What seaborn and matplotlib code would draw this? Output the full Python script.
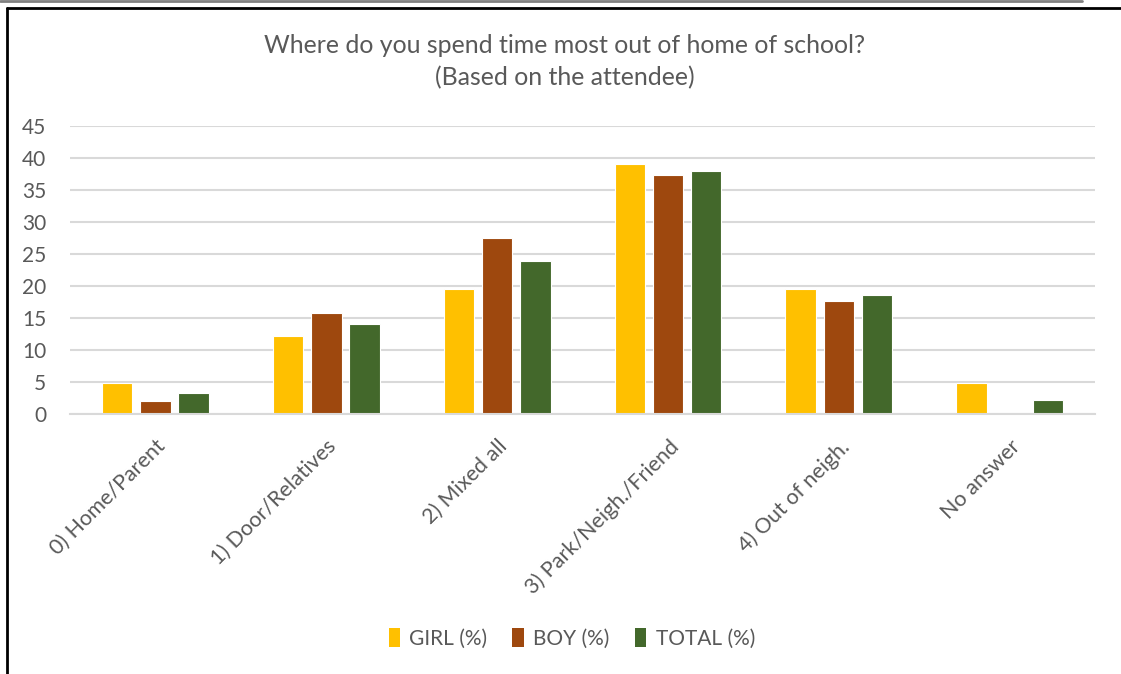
import matplotlib
matplotlib.use("Agg")
import matplotlib.pyplot as plt
import seaborn as sns
import pandas as pd
from matplotlib.lines import Line2D
from matplotlib.patches import Patch

categories = ["0) Home/Parent", "1) Door/Relatives", "2) Mixed all",
              "3) Park/Neigh./Friend", "4) Out of neigh.", "No answer"]
girl = [4.9, 12.2, 19.5, 39.0, 19.5, 4.9]
boy = [2.0, 15.7, 27.5, 37.3, 17.6, 0.0]
total = [3.3, 14.1, 23.9, 38.0, 18.5, 2.2]
series_names = ["GIRL (%)", "BOY (%)", "TOTAL (%)"]
colors = ["#FFC000", "#9E480E", "#43682B"]
yticks = [0, 5, 10, 15, 20, 25, 30, 35, 40, 45]

df = pd.DataFrame({
    "category": categories * 3,
    "series": [s for s in series_names for _ in categories],
    "value": girl + boy + total,
})

sns.set_theme(style="white")
plt.rcParams["font.family"] = ["Lato", "DejaVu Sans"]
text_color = "#595959"

fig = plt.figure(figsize=(11.21, 6.74), dpi=100)
ax = fig.add_axes([0.0624, 0.3858, 0.9146, 0.4277])

sns.barplot(data=df, x="category", y="value", hue="series", order=categories,
            hue_order=series_names, palette=colors, width=0.67, gap=0.2,
            saturation=1, ax=ax, legend=False, edgecolor="white", linewidth=0.8)

ax.set_ylim(0, 45)
ax.set_xlim(-0.5, len(categories) - 0.5)
ax.set_yticks(yticks)
ax.set_yticklabels([str(t) for t in yticks], fontsize=15, color=text_color)
ax.yaxis.grid(True, color="#D9D9D9", linewidth=1.5)
ax.set_axisbelow(True)
for s in ["top", "right", "left"]:
    ax.spines[s].set_visible(False)
ax.spines["bottom"].set_color("#D9D9D9")
ax.spines["bottom"].set_linewidth(1.5)
ax.tick_params(axis="y", length=0, pad=17)
ax.tick_params(axis="x", length=0, pad=16)
ax.set_xlabel("")
ax.set_ylabel("")
ax.set_xticks(range(len(categories)))
ax.set_xticklabels(categories, rotation=45, ha="right", va="top",
                   rotation_mode="anchor", fontsize=15.5, color=text_color)

fig.text(0.504, 0.909, "Where do you spend time most out of home of school?\n(Based on the attendee)",
         ha="center", va="center", fontsize=17.9, color=text_color, linespacing=1.45)

handles = [Patch(facecolor=c, edgecolor="none") for c in colors]
fig.legend(handles, series_names, loc="center", bbox_to_anchor=(0.51, 0.053),
           ncol=3, frameon=False, fontsize=15, handlelength=0.55, handleheight=1.0,
           handletextpad=0.45, columnspacing=1.2, labelcolor=text_color)

# outer frame decoration
fig.add_artist(Line2D([0, 0.965], [0.998, 0.998], color="#808080", linewidth=2,
                      transform=fig.transFigure))
fig.add_artist(Line2D([0.0058, 1.0], [0.988, 0.988], color="black", linewidth=2,
                      transform=fig.transFigure))
fig.add_artist(Line2D([0.0058, 0.0058], [0.0, 0.988], color="black", linewidth=2,
                      transform=fig.transFigure))

fig.savefig("out.png", dpi=100, facecolor="white")
